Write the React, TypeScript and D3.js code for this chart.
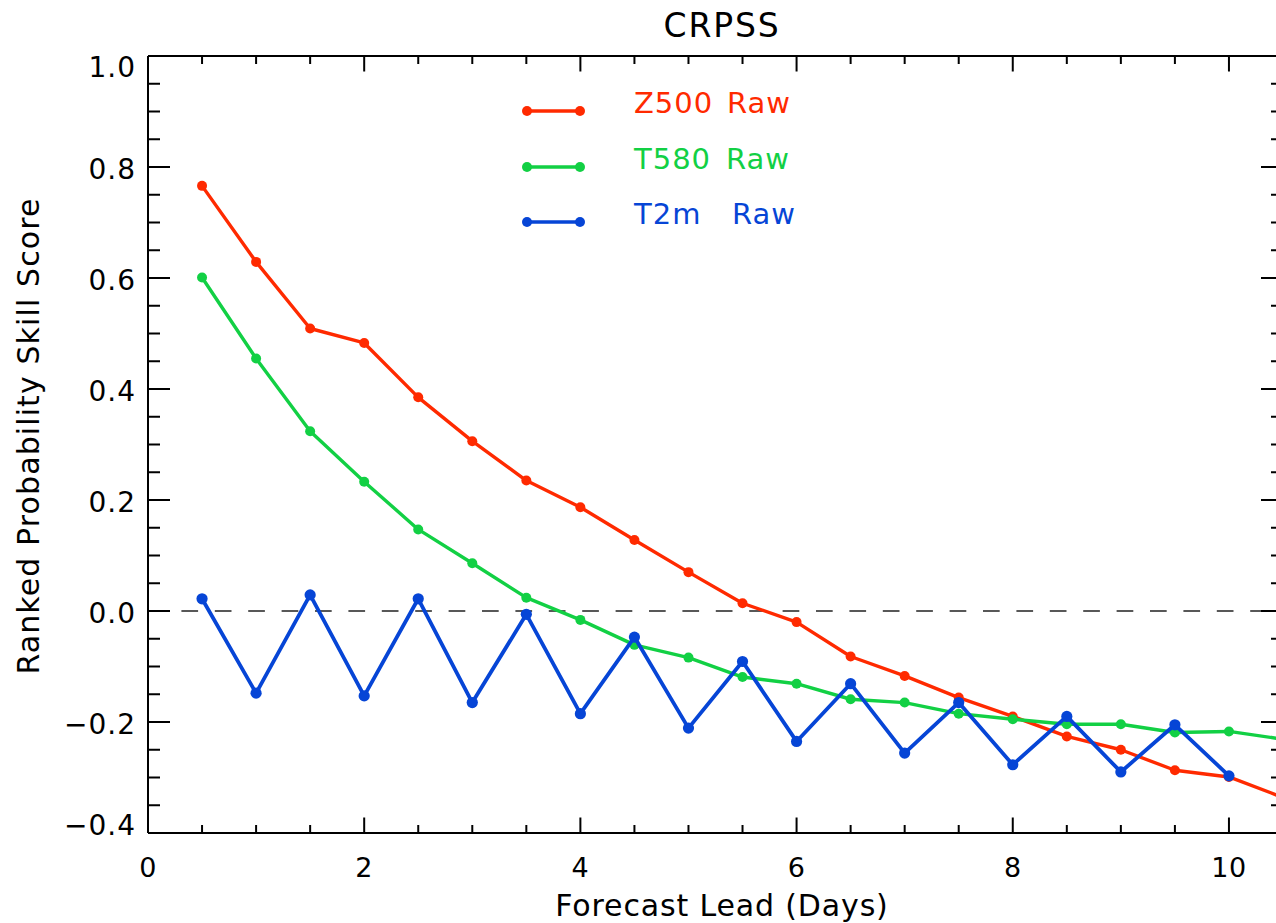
import React from "react";
import * as d3 from "d3";

const leadDays = [0.5, 1, 1.5, 2, 2.5, 3, 3.5, 4, 4.5, 5, 5.5, 6, 6.5, 7, 7.5, 8, 8.5, 9, 9.5, 10, 10.5];
const z500Raw = [0.766, 0.629, 0.509, 0.483, 0.385, 0.306, 0.235, 0.187, 0.128, 0.070, 0.014, -0.020, -0.082, -0.117, -0.156, -0.190, -0.226, -0.250, -0.287, -0.299, -0.336];
const t850Raw = [0.601, 0.455, 0.324, 0.233, 0.147, 0.086, 0.024, -0.016, -0.061, -0.084, -0.119, -0.131, -0.159, -0.165, -0.185, -0.195, -0.204, -0.204, -0.219, -0.217, -0.231];
const t2mRaw: (number | null)[] = [0.022, -0.148, 0.029, -0.153, 0.022, -0.165, -0.006, -0.185, -0.047, -0.211, -0.091, -0.235, -0.131, -0.256, -0.165, -0.277, -0.190, -0.290, -0.205, -0.297, null];

const seriesNames = ["Z500", "T580", "T2m"];
const seriesColors = ["#ff2a00", "#12d044", "#0645d6"];
const seriesWidths = [3.4, 3.4, 3.8];
const seriesRadius = [5, 5, 5.6];
const xMajorTicks = [0, 2, 4, 6, 8, 10];
const yMajorTicks = [1.0, 0.8, 0.6, 0.4, 0.2, 0.0, -0.2, -0.4];

const W = 1276;
const H = 923;
const left = 148;
const right = 1283;
const top = 56;
const bottom = 833;
const FONT = "'DejaVu Sans', 'Liberation Sans', sans-serif";

export default function App() {
  const x = d3.scaleLinear().domain([0, 10.5]).range([left, right]);
  const y = d3.scaleLinear().domain([-0.4, 1.0]).range([bottom, top]);

  const series = [z500Raw, t850Raw, t2mRaw];

  const xMinor = d3.range(0, 10.51, 0.5).filter((v) => Math.abs(v / 2 - Math.round(v / 2)) > 1e-6);
  const yMinor = d3.range(-0.4, 1.001, 0.05).filter((v) => Math.abs(v / 0.2 - Math.round(v / 0.2)) > 1e-6);

  const lineGen = d3
    .line<[number, number | null]>()
    .defined((d) => d[1] !== null)
    .x((d) => x(d[0]))
    .y((d) => y(d[1] as number));

  const legendX1 = 527;
  const legendX2 = 580;
  const legendYs = [111, 167, 222];
  const legendRawX = [727, 726, 732];

  const axisStroke = "#000";
  const sw = 2;

  const yLabelBaseline = (t: number) => {
    if (Math.abs(t - 1.0) < 1e-6) return y(t) + 20.5;
    if (Math.abs(t + 0.4) < 1e-6) return y(t) + 2;
    return y(t) + 12;
  };

  return (
    <svg
      width={W}
      height={H}
      style={{ position: "absolute", left: 0, top: 0, display: "block", background: "#fff" }}
      fontFamily={FONT}
    >
      <defs>
        <clipPath id="plotClip">
          <rect x={left} y={top} width={right - left} height={bottom - top} />
        </clipPath>
      </defs>
      <rect x={0} y={0} width={W} height={H} fill="#fff" />

      {/* zero dashed line */}
      <line
        x1={left}
        x2={right}
        y1={y(0)}
        y2={y(0)}
        stroke="#222"
        strokeWidth={1.6}
        strokeDasharray="16.7 16.7"
      />

      {/* series */}
      <g clipPath="url(#plotClip)">
        {series.map((vals, si) => {
          const pts = leadDays.map((d, i) => [d, vals[i]] as [number, number | null]);
          return (
            <g key={si}>
              <path
                d={lineGen(pts) || ""}
                fill="none"
                stroke={seriesColors[si]}
                strokeWidth={seriesWidths[si]}
                strokeLinejoin="round"
              />
              {pts
                .filter((p) => p[1] !== null)
                .map((p, i) => (
                  <circle key={i} cx={x(p[0])} cy={y(p[1] as number)} r={seriesRadius[si]} fill={seriesColors[si]} />
                ))}
            </g>
          );
        })}
      </g>

      {/* frame */}
      <line x1={left} x2={right} y1={top} y2={top} stroke={axisStroke} strokeWidth={sw} />
      <line x1={left} x2={right} y1={bottom} y2={bottom} stroke={axisStroke} strokeWidth={sw} />
      <line x1={left} x2={left} y1={top} y2={bottom} stroke={axisStroke} strokeWidth={sw} />
      <line x1={right} x2={right} y1={top} y2={bottom} stroke={axisStroke} strokeWidth={sw} />

      {/* x ticks */}
      {xMajorTicks.map((t) => (
        <g key={"xM" + t}>
          <line x1={x(t)} x2={x(t)} y1={bottom} y2={bottom - 15.5} stroke={axisStroke} strokeWidth={sw} />
          <line x1={x(t)} x2={x(t)} y1={top} y2={top + 15.5} stroke={axisStroke} strokeWidth={sw} />
          <text x={x(t)} y={877} textAnchor="middle" fontSize={27} fill="#000" letterSpacing={0.5}>
            {t}
          </text>
        </g>
      ))}
      {xMinor.map((t) => (
        <g key={"xm" + t}>
          <line x1={x(t)} x2={x(t)} y1={bottom} y2={bottom - 8} stroke={axisStroke} strokeWidth={sw} />
          <line x1={x(t)} x2={x(t)} y1={top} y2={top + 8} stroke={axisStroke} strokeWidth={sw} />
        </g>
      ))}

      {/* y ticks */}
      {yMajorTicks.map((t) => (
        <g key={"yM" + t}>
          <line x1={left} x2={left + 22} y1={y(t)} y2={y(t)} stroke={axisStroke} strokeWidth={sw} />
          <line x1={right} x2={right - 22} y1={y(t)} y2={y(t)} stroke={axisStroke} strokeWidth={sw} />
          <text x={136} y={yLabelBaseline(t)} textAnchor="end" fontSize={28} fill="#000" letterSpacing={1}>
            {d3.format(".1f")(t).replace("-", "\u2212")}
          </text>
        </g>
      ))}
      {yMinor.map((t) => (
        <g key={"ym" + t.toFixed(2)}>
          <line x1={left} x2={left + 12} y1={y(t)} y2={y(t)} stroke={axisStroke} strokeWidth={sw} />
          <line x1={right} x2={right - 12} y1={y(t)} y2={y(t)} stroke={axisStroke} strokeWidth={sw} />
        </g>
      ))}

      {/* titles */}
      <text x={722} y={37} textAnchor="middle" fontSize={33} fill="#000" letterSpacing={1.8}>
        CRPSS
      </text>
      <text x={722} y={916} textAnchor="middle" fontSize={30} fill="#000" letterSpacing={0.85}>
        Forecast Lead (Days)
      </text>
      <text
        transform={`translate(39, 436) rotate(-90)`}
        textAnchor="middle"
        fontSize={30}
        fill="#000"
        letterSpacing={1.1}
      >
        Ranked Probability Skill Score
      </text>

      {/* legend */}
      {seriesNames.map((name, i) => (
        <g key={"lg" + i}>
          <line x1={legendX1} x2={legendX2} y1={legendYs[i]} y2={legendYs[i]} stroke={seriesColors[i]} strokeWidth={3.4} />
          <circle cx={legendX1} cy={legendYs[i]} r={5} fill={seriesColors[i]} />
          <circle cx={legendX2} cy={legendYs[i]} r={5} fill={seriesColors[i]} />
          <text x={634} y={legendYs[i] + 1.5} fontSize={29} fill={seriesColors[i]} letterSpacing={1}>
            {name}
          </text>
          <text x={legendRawX[i]} y={legendYs[i] + 1.5} fontSize={29} fill={seriesColors[i]} letterSpacing={1}>
            Raw
          </text>
        </g>
      ))}
    </svg>
  );
}
